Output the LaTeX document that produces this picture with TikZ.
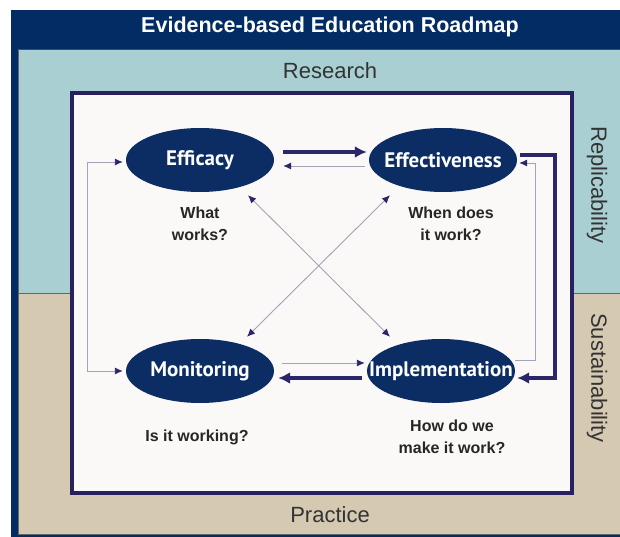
\documentclass[tikz,border=0pt]{standalone}
\usepackage{fontspec}
\setmainfont{Liberation Sans}
\newfontfamily\ellfont{PT Sans}
\usetikzlibrary{arrows.meta,shapes.geometric}
\definecolor{navy}{HTML}{022C63}
\definecolor{ellnavy}{HTML}{0B2D64}
\definecolor{lblue}{HTML}{A9CFD3}
\definecolor{tan}{HTML}{D6C9B2}
\definecolor{paper}{HTML}{FBF9F7}
\definecolor{boxline}{HTML}{27225F}
\definecolor{arrnavy}{HTML}{2B2669}
\definecolor{thinline}{HTML}{A3A2B8}
\newcommand\ztxt[1]{\makebox[0pt]{#1}}
\tikzset{
  ell/.style={ellipse, fill=ellnavy, minimum width=148pt, minimum height=64pt, inner sep=0pt,
    text=white, font=\ellfont\bfseries\fontsize{21}{24}\selectfont},
  question/.style={align=center, font=\bfseries\fontsize{16}{22}\selectfont, text=black!85},
  zone/.style={font=\fontsize{22}{24}\selectfont, text=black!80},
  thickarr/.style={draw=arrnavy, line width=4pt, -{Latex[length=12pt,width=12pt]}},
  thinarr/.style={draw=thinline, line width=0.9pt, -{Latex[length=8pt,width=7pt,color=arrnavy]}},
  thinboth/.style={draw=thinline, line width=0.9pt, {Latex[length=8pt,width=7pt,color=arrnavy]}-{Latex[length=8pt,width=7pt,color=arrnavy]}}
}
\begin{document}
\begin{tikzpicture}[x=1pt,y=-1pt]
\useasboundingbox (0,0) rectangle (620,537);
% frames
\fill[navy] (11,10) rectangle (620,537);
\fill[lblue] (18,49) rectangle (620,293);
\fill[tan] (18,293) rectangle (620,534);
\draw[black!70, line width=0.8pt] (18,49.5) -- (620,49.5);
\draw[black!60, line width=0.8pt] (18,293) -- (620,293);
\draw[black!60, line width=0.8pt] (18,49.5) -- (18,534);
\draw[black!60, line width=0.8pt] (18,534) -- (620,534);
\node[text=white, font=\bfseries\fontsize{21.5}{24}\selectfont] (title) at (330,27) {Evidence-based Education Roadmap};
\node[zone] (research) at (330,71) {Research};
\node[zone] (practice) at (330,515) {Practice};
\node[zone, rotate=-90] (repl) at (597,185) {Replicability};
\node[zone, rotate=-90] (sust) at (597,378) {Sustainability};
% inner box
\draw[fill=paper, draw=boxline, line width=4pt] (72,93) rectangle (572,493);
% ellipses
\node[ell] (eff) at (200,160) {\ztxt{Efficacy}};
\node[ell] (eft) at (443,160) {\ztxt{Effectiveness}};
\node[ell] (mon) at (200,371) {\ztxt{Monitoring}};
\node[ell] (imp) at (441,371) {\ztxt{Implementation}};
% questions
\node[question] (q1) at (200,224) {What\\works?};
\node[question] (q2) at (451,224) {When does\\it work?};
\node[question] (q3) at (197,437) {Is it working?};
\node[question] (q4) at (452,437) {How do we\\make it work?};
% horizontal arrows
\draw[thickarr] ([xshift=9pt,yshift=8pt]eff.east) -- ([xshift=-2pt,yshift=8pt]eft.west);
\draw[thinarr] ([xshift=-4pt,yshift=-6pt]eft.west) -- ([xshift=9pt,yshift=-6pt]eff.east);
\draw[thinarr] ([xshift=8pt,yshift=8pt]mon.east) -- ([xshift=-2pt,yshift=8pt]imp.west);
\draw[thickarr] ([xshift=-5pt,yshift=-7pt]imp.west) -- ([xshift=4pt,yshift=-7pt]mon.east);
% right brackets
\draw[thinarr] ([xshift=0pt,yshift=11pt]imp.east) -- ++(20,0) |- ([xshift=2pt,yshift=-3pt]eft.east);
\draw[thickarr] ([xshift=3pt,yshift=5pt]eft.east) -- ++(35,0) |- ([xshift=2pt,yshift=-7pt]imp.east);
% left bracket
\draw[thinboth] ([xshift=-3pt,yshift=-2pt]eff.west) -- ++(-35,0) |- ([xshift=-3pt]mon.west);
% diagonals
\draw[thinboth] ([xshift=48pt,yshift=-3pt]eff.south) -- ([xshift=-51pt,yshift=2pt]imp.north);
\draw[thinboth] ([xshift=-53pt,yshift=-3pt]eft.south) -- ([xshift=47pt,yshift=2pt]mon.north);
\end{tikzpicture}
\end{document}
